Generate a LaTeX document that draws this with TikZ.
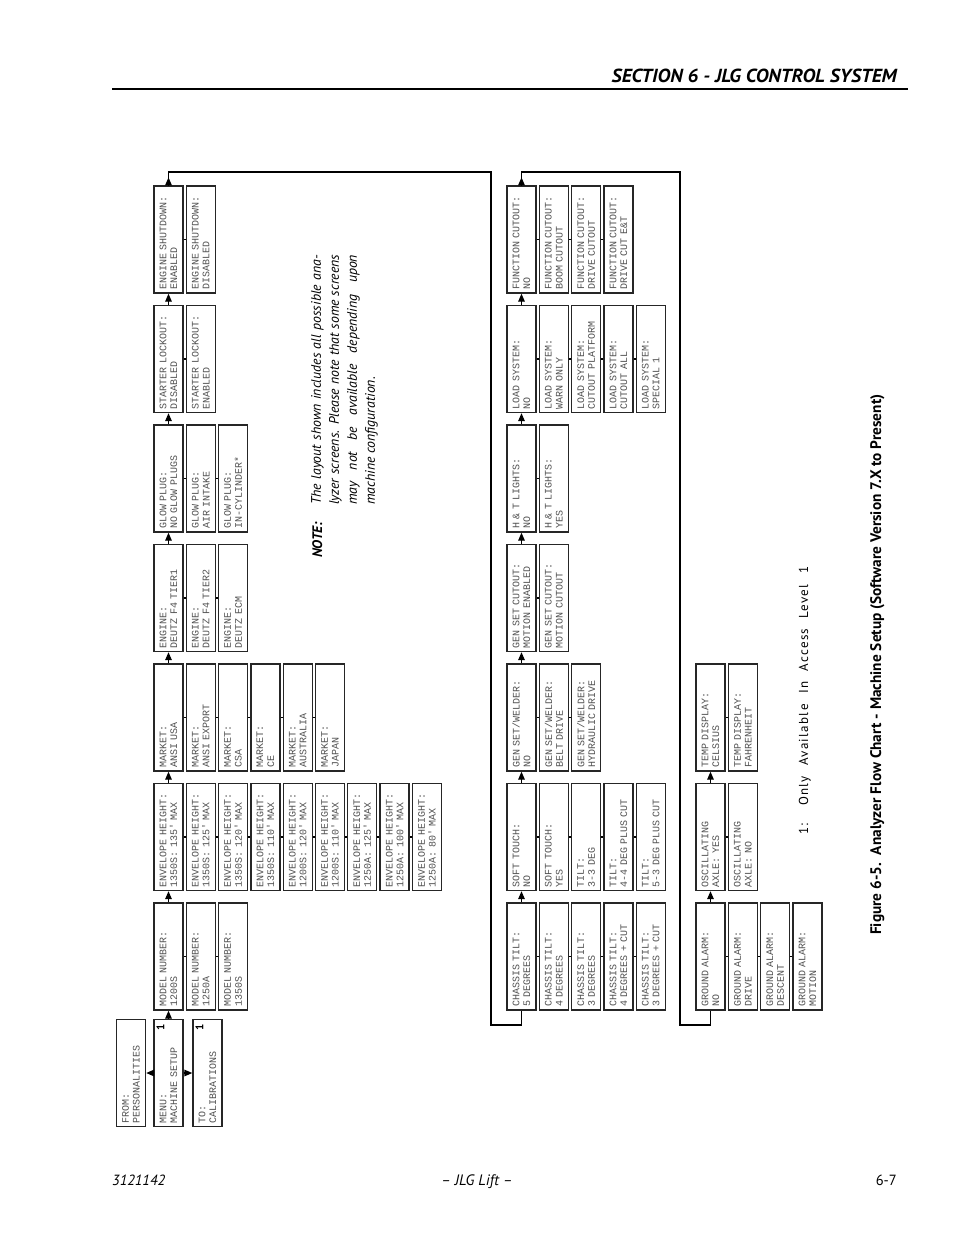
\documentclass[tikz,border=0pt]{standalone}
\usepackage{fontspec}
\setmainfont{PT Sans}
\newfontfamily\boxfont{Liberation Mono}
\usepackage{graphicx}
\usetikzlibrary{arrows.meta}
\tikzset{
 bx/.style={draw=black!85, line width=1.3pt, rotate=90, minimum width=107pt, minimum height=29pt,
   inner xsep=3.5pt, inner ysep=0pt, text width=100pt, align=left,
   font=\fontsize{10}{10.8}\selectfont\boxfont, text=black!68},
 link/.style={line width=1.3pt},
 arr/.style={line width=1.3pt, -{Triangle[length=8pt,width=6.5pt]}},
 loopline/.style={line width=1.1pt},
 vtext/.style={rotate=90, inner sep=0pt},
}
\newcommand\mkbox[6]{\node[bx] (#1) at ({#2+14.5+32.3*#3},{239.5+119.5*#4}) {#5\\#6};}
\newcommand\qs{\textquotesingle}
\begin{document}
\begin{tikzpicture}[x=1pt,y=-1pt]
\fill[white] (0,0) rectangle (954,1235);
\useasboundingbox (0,0) rectangle (954,1235);

% header / footer
\node[anchor=base east, inner sep=0pt] (hdr) at (897,82) {\resizebox{285pt}{13.5pt}{\bfseries\itshape SECTION 6 - JLG CONTROL SYSTEM}};
\draw[line width=1.2pt] (112,89) -- (908,89);
\node[anchor=base west, inner sep=0pt] (f1) at (112,1185) {\resizebox{53pt}{10.5pt}{\itshape 3121142}};
\node[anchor=base, inner sep=0pt] (f2) at (477,1185) {\resizebox{71pt}{!}{\itshape – JLG Lift –}};
\node[anchor=base east, inner sep=0pt] (f3) at (897,1185) {\resizebox{21pt}{10.5pt}{6-7}};

% ---------- row 1 ----------
\node[bx] (fr) at (131,1073) {FROM:\\PERSONALITIES};
\node[bx] (me) at (168.5,1073) {MENU:\\MACHINE SETUP};
\node[bx] (tocal) at (207.5,1073) {TO:\\CALIBRATIONS};
\node[vtext, font=\bfseries\fontsize{11}{11}\selectfont] (m1) at (160.5,1027) {1};
\node[vtext, font=\bfseries\fontsize{11}{11}\selectfont] (m2) at (199.5,1027) {1};

\mkbox{es}{154}{0}{0}{ENGINE SHUTDOWN:}{ENABLED}
\mkbox{es2}{154}{1}{0}{ENGINE SHUTDOWN:}{DISABLED}
\mkbox{sl1}{154}{0}{1}{STARTER LOCKOUT:}{DISABLED}
\mkbox{sl2}{154}{1}{1}{STARTER LOCKOUT:}{ENABLED}
\mkbox{gp1}{154}{0}{2}{GLOW PLUG:}{NO GLOW PLUGS}
\mkbox{gp2}{154}{1}{2}{GLOW PLUG:}{AIR INTAKE}
\mkbox{gp3}{154}{2}{2}{GLOW PLUG:}{IN-CYLINDER*}
\mkbox{en1}{154}{0}{3}{ENGINE:}{DEUTZ F4 TIER1}
\mkbox{en2}{154}{1}{3}{ENGINE:}{DEUTZ F4 TIER2}
\mkbox{en3}{154}{2}{3}{ENGINE:}{DEUTZ ECM}
\mkbox{mk1}{154}{0}{4}{MARKET:}{ANSI USA}
\mkbox{mk2}{154}{1}{4}{MARKET:}{ANSI EXPORT}
\mkbox{mk3}{154}{2}{4}{MARKET:}{CSA}
\mkbox{mk4}{154}{3}{4}{MARKET:}{CE}
\mkbox{mk5}{154}{4}{4}{MARKET:}{AUSTRALIA}
\mkbox{mk6}{154}{5}{4}{MARKET:}{JAPAN}
\mkbox{eh1}{154}{0}{5}{ENVELOPE HEIGHT:}{1350S: 135\qs{} MAX}
\mkbox{eh2}{154}{1}{5}{ENVELOPE HEIGHT:}{1350S: 125\qs{} MAX}
\mkbox{eh3}{154}{2}{5}{ENVELOPE HEIGHT:}{1350S: 120\qs{} MAX}
\mkbox{eh4}{154}{3}{5}{ENVELOPE HEIGHT:}{1350S: 110\qs{} MAX}
\mkbox{eh5}{154}{4}{5}{ENVELOPE HEIGHT:}{1200S: 120\qs{} MAX}
\mkbox{eh6}{154}{5}{5}{ENVELOPE HEIGHT:}{1200S: 110\qs{} MAX}
\mkbox{eh7}{154}{6}{5}{ENVELOPE HEIGHT:}{1250A: 125\qs{} MAX}
\mkbox{eh8}{154}{7}{5}{ENVELOPE HEIGHT:}{1250A: 100\qs{} MAX}
\mkbox{eh9}{154}{8}{5}{ENVELOPE HEIGHT:}{1250A: 80\qs{} MAX}
\mkbox{mn1}{154}{0}{6}{MODEL NUMBER:}{1200S}
\mkbox{mn2}{154}{1}{6}{MODEL NUMBER:}{1250A}
\mkbox{mn3}{154}{2}{6}{MODEL NUMBER:}{1350S}

% ---------- row 2 ----------
\mkbox{fc1}{507}{0}{0}{FUNCTION CUTOUT:}{NO}
\mkbox{fc2}{507}{1}{0}{FUNCTION CUTOUT:}{BOOM CUTOUT}
\mkbox{fc3}{507}{2}{0}{FUNCTION CUTOUT:}{DRIVE CUTOUT}
\mkbox{fc4}{507}{3}{0}{FUNCTION CUTOUT:}{DRIVE CUT E\&T}
\mkbox{ls1}{507}{0}{1}{LOAD SYSTEM:}{NO}
\mkbox{ls2}{507}{1}{1}{LOAD SYSTEM:}{WARN ONLY}
\mkbox{ls3}{507}{2}{1}{LOAD SYSTEM:}{CUTOUT PLATFORM}
\mkbox{ls4}{507}{3}{1}{LOAD SYSTEM:}{CUTOUT ALL}
\mkbox{ls5}{507}{4}{1}{LOAD SYSTEM:}{SPECIAL 1}
\mkbox{ht1}{507}{0}{2}{H \& T LIGHTS:}{NO}
\mkbox{ht2}{507}{1}{2}{H \& T LIGHTS:}{YES}
\mkbox{gc1}{507}{0}{3}{GEN SET CUTOUT:}{MOTION ENABLED}
\mkbox{gc2}{507}{1}{3}{GEN SET CUTOUT:}{MOTION CUTOUT}
\mkbox{gw1}{507}{0}{4}{GEN SET/WELDER:}{NO}
\mkbox{gw2}{507}{1}{4}{GEN SET/WELDER:}{BELT DRIVE}
\mkbox{gw3}{507}{2}{4}{GEN SET/WELDER:}{HYDRAULIC DRIVE}
\mkbox{st1}{507}{0}{5}{SOFT TOUCH:}{NO}
\mkbox{st2}{507}{1}{5}{SOFT TOUCH:}{YES}
\mkbox{st3}{507}{2}{5}{TILT:}{3-3 DEG}
\mkbox{st4}{507}{3}{5}{TILT:}{4-4 DEG PLUS CUT}
\mkbox{st5}{507}{4}{5}{TILT:}{5-3 DEG PLUS CUT}
\mkbox{ct1}{507}{0}{6}{CHASSIS TILT:}{5 DEGREES}
\mkbox{ct2}{507}{1}{6}{CHASSIS TILT:}{4 DEGREES}
\mkbox{ct3}{507}{2}{6}{CHASSIS TILT:}{3 DEGREES}
\mkbox{ct4}{507}{3}{6}{CHASSIS TILT:}{4 DEGREES + CUT}
\mkbox{ct5}{507}{4}{6}{CHASSIS TILT:}{3 DEGREES + CUT}

% ---------- row 3 ----------
\mkbox{td1}{696}{0}{4}{TEMP DISPLAY:}{CELSIUS}
\mkbox{td2}{696}{1}{4}{TEMP DISPLAY:}{FAHRENHEIT}
\mkbox{oa1}{696}{0}{5}{OSCILLATING}{AXLE: YES}
\mkbox{oa2}{696}{1}{5}{OSCILLATING}{AXLE: NO}
\mkbox{ga1}{696}{0}{6}{GROUND ALARM:}{NO}
\mkbox{ga2}{696}{1}{6}{GROUND ALARM:}{DRIVE}
\mkbox{ga3}{696}{2}{6}{GROUND ALARM:}{DESCENT}
\mkbox{ga4}{696}{3}{6}{GROUND ALARM:}{MOTION}

% side links between options
\foreach \a/\b in {es/es2, sl1/sl2, gp1/gp2, gp2/gp3, en1/en2, en2/en3,
  mk1/mk2, mk2/mk3, mk3/mk4, mk4/mk5, mk5/mk6,
  eh1/eh2, eh2/eh3, eh3/eh4, eh4/eh5, eh5/eh6, eh6/eh7, eh7/eh8, eh8/eh9,
  mn1/mn2, mn2/mn3,
  fc1/fc2, fc2/fc3, fc3/fc4, ls1/ls2, ls2/ls3, ls3/ls4, ls4/ls5, ht1/ht2, gc1/gc2,
  gw1/gw2, gw2/gw3, st1/st2, st2/st3, st3/st4, st4/st5, ct1/ct2, ct2/ct3, ct3/ct4, ct4/ct5,
  td1/td2, oa1/oa2, ga1/ga2, ga2/ga3, ga3/ga4}
  \draw[link] (\a.south) -- (\b.north);

% upward arrows between screens
\foreach \a/\b in {me/mn1, mn1/eh1, eh1/mk1, mk1/en1, en1/gp1, gp1/sl1, sl1/es,
  ct1/st1, st1/gw1, gw1/gc1, gc1/ht1, ht1/ls1, ls1/fc1, ga1/oa1, oa1/td1}
  \draw[arr] (\a.east) -- (\b.west);
\draw[arr] (me.north) -- (fr.south);
\draw[arr] (me.south) -- (tocal.north);

% loop-back lines
\coordinate (la) at (491,172);
\coordinate (lb) at (491,1025);
\coordinate (ra) at (680,172);
\coordinate (rb) at (680,1025);
\draw[loopline] (es.east) -- (es.east |- la) -- (la) -- (lb) -- (lb -| ct1) -- (ct1.west);
\draw[arr] (es.east) -- ++(0,-8);
\draw[loopline] (fc1.east) -- (fc1.east |- ra) -- (ra) -- (rb) -- (rb -| ga1) -- (ga1.west);
\draw[arr] (fc1.east) -- ++(0,-8);

% note
\node[vtext, anchor=base west, font=\bfseries\itshape\fontsize{13.8}{18}\selectfont] (notehd) at (322,558) {NOTE:};
\node[vtext, anchor=north west, align=left, font=\itshape\fontsize{13.8}{18}\selectfont] (notetx) at (311,505)
 {\makebox[250pt][s]{The layout shown includes all possible ana-}\\
  \makebox[250pt][s]{lyzer screens. Please note that some screens}\\
  \makebox[250pt][s]{may not be available depending upon}\\
  machine configuration.};

% footnote and caption
\node[vtext, anchor=base west, font=\fontsize{13}{13}\selectfont] (fn) at (808,835)
 {\makebox[268pt][s]{\addfontfeature{LetterSpace=10}1: Only Available In Access Level 1}};
\node[vtext, anchor=base west] (cap) at (881,935) {\resizebox{540pt}{!}{\bfseries Figure 6-5.\ \ Analyzer Flow Chart - Machine Setup (Software Version 7.X to Present)}};
\end{tikzpicture}
\end{document}
